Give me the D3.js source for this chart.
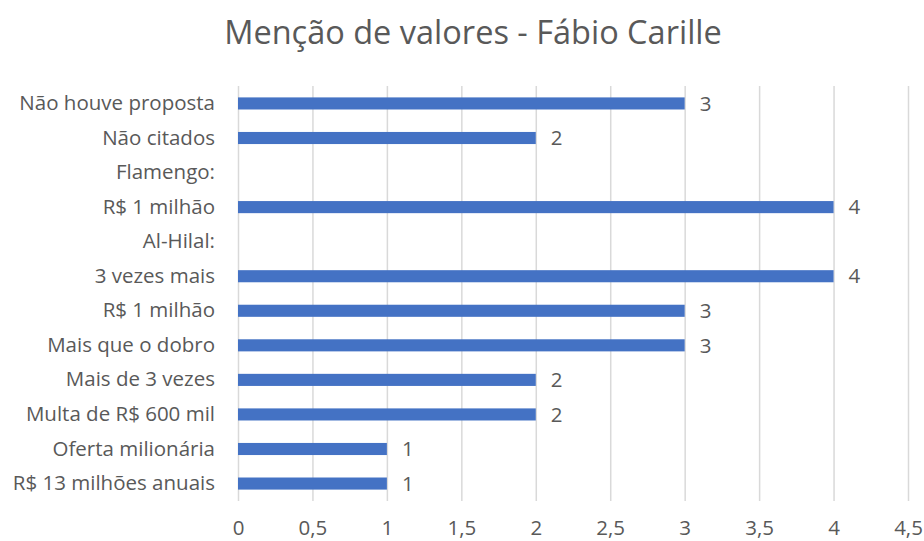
<!DOCTYPE html>
<html>
<head>
<meta charset="utf-8">
<script src="https://cdn.jsdelivr.net/npm/d3@7"></script>
<style>
  body { margin: 0; background: #fff; }
  text { font-family: "Open Sans", sans-serif; fill: #595959; }
</style>
</head>
<body>
<div class="chart"></div>
<script>
// data, top to bottom as in the picture
const categories = [
    'Não houve proposta',
    'Não citados',
    'Flamengo:',
    'R$ 1 milhão',
    'Al-Hilal:',
    '3 vezes mais ',
    'R$ 1 milhão',
    'Mais que o dobro',
    'Mais de 3 vezes',
    'Multa de R$ 600 mil',
    'Oferta milionária',
    'R$ 13 milhões anuais'
];
const values = [3, 2, null, 4, null, 4, 3, 3, 2, 2, 1, 1];
const xTicks = [0, 0.5, 1, 1.5, 2, 2.5, 3, 3.5, 4, 4.5];
const title = 'Menção de valores - Fábio Carille';

const rows = categories.map((c, i) => ({ key: i, label: c, value: values[i] }));

const width = 924;
const height = 541;
const margin = { top: 86, right: 16, bottom: 40, left: 238 };
const innerW = width - margin.left - margin.right;
const innerH = 501 - margin.top;
const fontFamily = '"Open Sans", sans-serif';
const labelSize = 20.5;

const svg = d3.select('.chart')
    .append('svg')
    .attr('width', width)
    .attr('height', height);

// title
svg.append('text')
    .attr('x', 473)
    .attr('y', 44)
    .attr('text-anchor', 'middle')
    .attr('font-size', 32.5)
    .text(title);

const g = svg.append('g')
    .attr('transform', `translate(${margin.left}, ${margin.top})`);

const xScale = d3.scaleLinear()
    .domain([0, 4.5])
    .range([0, innerW]);

const yScale = d3.scaleBand()
    .domain(rows.map(d => d.key))
    .range([0, innerH])
    .paddingInner(0.65)
    .paddingOuter(0.33);

// vertical gridlines
const xAxis = d3.axisBottom(xScale)
    .tickValues(xTicks)
    .tickFormat(d => String(d).replace('.', ','))
    .tickSizeInner(-innerH)
    .tickSizeOuter(0)
    .tickPadding(19);

const xAxisDraw = g.append('g')
    .attr('class', 'x axis')
    .attr('transform', `translate(0, ${innerH})`)
    .call(xAxis);

xAxisDraw.select('.domain').remove();
xAxisDraw.selectAll('line').attr('stroke', '#d9d9d9').attr('stroke-width', 1.5);
xAxisDraw.selectAll('text')
    .attr('font-size', labelSize)
    .attr('fill', '#595959')
    .style('font-family', fontFamily);

// category labels
const yAxis = d3.axisLeft(yScale)
    .tickSize(0)
    .tickPadding(23)
    .tickFormat(k => rows[k].label);

const yAxisDraw = g.append('g')
    .attr('class', 'y axis')
    .call(yAxis);

yAxisDraw.select('.domain').remove();
yAxisDraw.selectAll('text')
    .attr('font-size', labelSize)
    .attr('fill', '#595959')
    .style('font-family', fontFamily);

// bars
const withValue = rows.filter(d => d.value != null);

g.selectAll('.bar')
    .data(withValue)
    .enter()
    .append('rect')
    .attr('class', 'bar')
    .attr('x', xScale(0))
    .attr('y', d => yScale(d.key))
    .attr('width', d => xScale(d.value) - xScale(0))
    .attr('height', yScale.bandwidth())
    .style('fill', '#4472c4');

// value labels
g.selectAll('.value-label')
    .data(withValue)
    .enter()
    .append('text')
    .attr('class', 'value-label')
    .attr('x', d => xScale(d.value) + 15)
    .attr('y', d => yScale(d.key) + yScale.bandwidth() / 2)
    .attr('dy', '0.35em')
    .attr('font-size', labelSize)
    .text(d => d.value);
</script>
</body>
</html>
